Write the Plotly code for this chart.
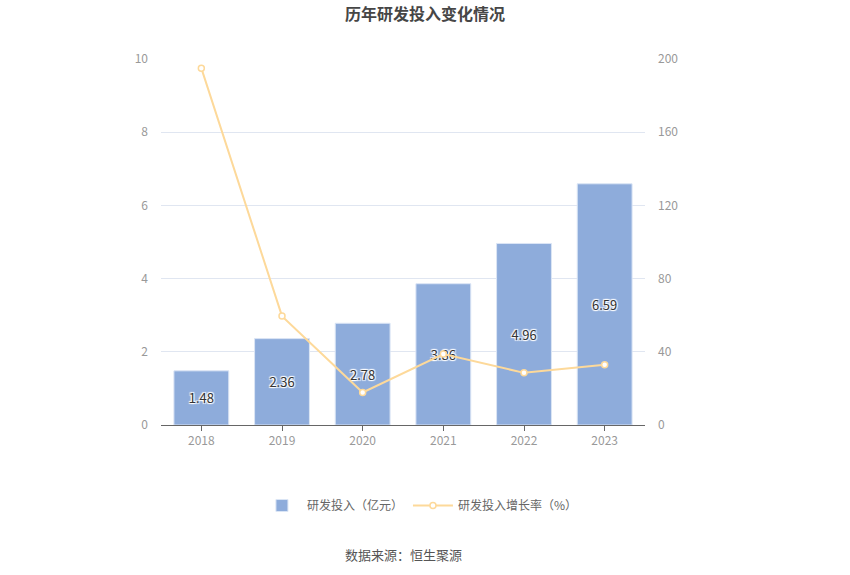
import plotly.graph_objects as go

years = ["2018", "2019", "2020", "2021", "2022", "2023"]
rd_invest = [1.48, 2.36, 2.78, 3.86, 4.96, 6.59]
growth_rate = [195.0, 59.5, 17.8, 38.8, 28.5, 32.9]

bar_color = "#8eacdb"
line_color = "#fdd99a"
font_family = "Noto Sans CJK SC, Noto Sans, sans-serif"

W, H = 850, 575

fig = go.Figure()
fig.add_trace(go.Bar(
    x=years, y=rd_invest, name="研发投入（亿元）",
    marker=dict(color=bar_color, line=dict(color="#dbe5f5", width=1)),
    width=0.68,
    text=[f"{v:.2f}" for v in rd_invest], textposition="inside",
    insidetextanchor="middle",
    textfont=dict(color="#333333", size=13, family=font_family,
                  shadow="1px 1px 1px #fff, -1px -1px 1px #fff, 1px -1px 1px #fff, -1px 1px 1px #fff"),
    yaxis="y",
))
fig.add_trace(go.Scatter(
    x=years, y=growth_rate, name="研发投入增长率（%）",
    mode="lines+markers",
    line=dict(color=line_color, width=2),
    marker=dict(symbol="circle", size=6, color="white", line=dict(color=line_color, width=1.5)),
    yaxis="y2",
))

fig.update_layout(
    width=W, height=H,
    margin=dict(l=161, r=205, t=59, b=150),
    paper_bgcolor="white", plot_bgcolor="white",
    font=dict(family=font_family, color="#999999", size=12),
    title=dict(text="<b>历年研发投入变化情况</b>", x=0.5, xanchor="center", y=1 - 14 / H, yanchor="middle",
               font=dict(size=16, color="#464646", family=font_family)),
    showlegend=True,
    legend=dict(orientation="h", x=0.535, xanchor="center", y=-0.22, yanchor="middle",
                font=dict(size=12, color="#666666"), itemwidth=40),
    xaxis=dict(showline=True, linecolor="#666666", linewidth=1, ticks="outside", ticklen=5,
               tickcolor="#666666", tickfont=dict(color="#999999", size=12), showgrid=False),
    yaxis=dict(range=[0, 10], dtick=2, showgrid=True, gridcolor="#e0e6f1", zeroline=False,
               tickfont=dict(color="#999999", size=12), ticklabelstandoff=12),
    yaxis2=dict(range=[0, 200], dtick=40, overlaying="y", side="right", showgrid=False,
                zeroline=False, tickfont=dict(color="#999999", size=12), ticklabelstandoff=12),
    annotations=[dict(text="数据来源：恒生聚源", x=0.5, xref="paper", y=-0.355, yref="paper",
                      xanchor="center", yanchor="middle", showarrow=False,
                      font=dict(size=13, color="#555555"))],
)

fig.write_html("out.html", config={"displayModeBar": False},
               post_script="document.body.style.margin='0';")
